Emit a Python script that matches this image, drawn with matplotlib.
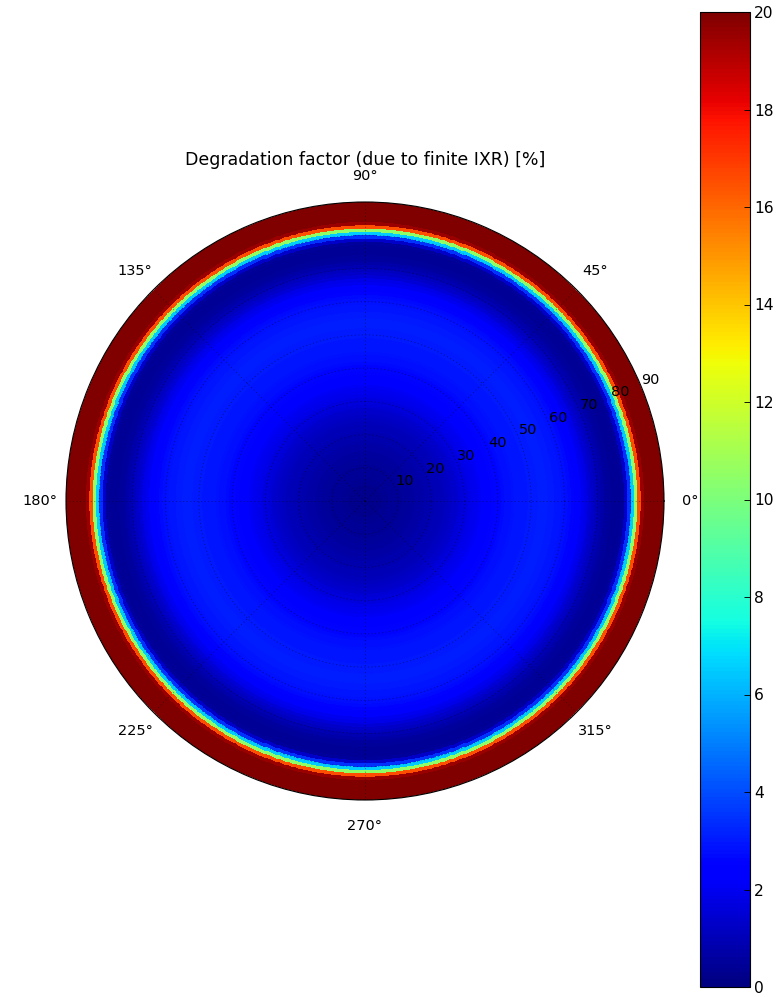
import numpy as np
import matplotlib
matplotlib.use('Agg')
import matplotlib.pyplot as plt

# radial bins in degrees (zenith angle), one value per 1-degree ring
r_edges = np.arange(0, 91, 1)
# degradation factor [%] per ring (center -> edge)
degradation = [
    0.3, 0.3, 0.3, 0.3, 0.3, 0.35, 0.35, 0.4, 0.4, 0.45,
    0.45, 0.5, 0.5, 0.55, 0.6, 0.65, 0.7, 0.75, 0.8, 0.85,
    0.9, 0.95, 1.0, 1.05, 1.1, 1.2, 1.3, 1.4, 1.5, 1.6,
    1.7, 1.8, 1.9, 2.0, 2.1, 2.2, 2.3, 2.4, 2.5, 2.6,
    2.65, 2.7, 2.75, 2.8, 2.85, 2.9, 2.9, 2.95, 2.95, 3.0,
    3.0, 3.0, 3.05, 3.05, 3.05, 3.0, 3.0, 2.95, 2.9, 2.85,
    2.8, 2.7, 2.55, 2.4, 2.2, 2.0, 1.8, 1.55, 1.3, 1.1,
    0.9, 0.75, 0.6, 0.5, 0.45, 0.4, 0.4, 0.5, 1.3, 3.5,
    6.5, 10.5, 16.5, 19.5, 25.0, 30.0, 40.0, 60.0, 100.0, 200.0,
]
theta_edges = np.deg2rad(np.arange(0, 360.5, 0.5))
r_ticks = [10, 20, 30, 40, 50, 60, 70, 80, 90]
cbar_ticks = [0, 2, 4, 6, 8, 10, 12, 14, 16, 18, 20]
title = 'Degradation factor (due to finite IXR) [%]'

W, H, DPI = 781, 997, 80
fig = plt.figure(figsize=(W / DPI, H / DPI), dpi=DPI)

ax = fig.add_axes([66 / W, 1 - 800 / H, 598 / W, 598 / H], projection='polar')
Z = np.tile(np.asarray(degradation)[np.newaxis, :], (len(theta_edges) - 1, 1))
TH, RR = np.meshgrid(theta_edges, r_edges, indexing='ij')
mesh = ax.pcolormesh(TH, RR, Z, cmap='jet', vmin=0, vmax=20, shading='flat')

ax.set_ylim(0, 90)
ax.set_yticks(r_ticks)
ax.set_rlabel_position(22.5)
ax.set_thetagrids(np.arange(0, 360, 45))
ax.grid(True, color='black', linestyle=(0, (1, 3)), linewidth=0.8, alpha=0.5)
ax.tick_params(axis='x', pad=13, labelsize=13)
ax.tick_params(axis='y', labelsize=13)
ax.spines['polar'].set_linewidth(1.0)

fig.text(365 / W, 1 - 160 / H, title, ha='center', va='center', fontsize=15.7)

cax = fig.add_axes([700 / W, 1 - 987 / H, 50 / W, 975 / H])
cb = fig.colorbar(mesh, cax=cax, ticks=cbar_ticks)
cb.ax.tick_params(direction='in', length=5, labelsize=14)
cb.outline.set_linewidth(1.0)

fig.savefig('out.png', dpi=DPI)
